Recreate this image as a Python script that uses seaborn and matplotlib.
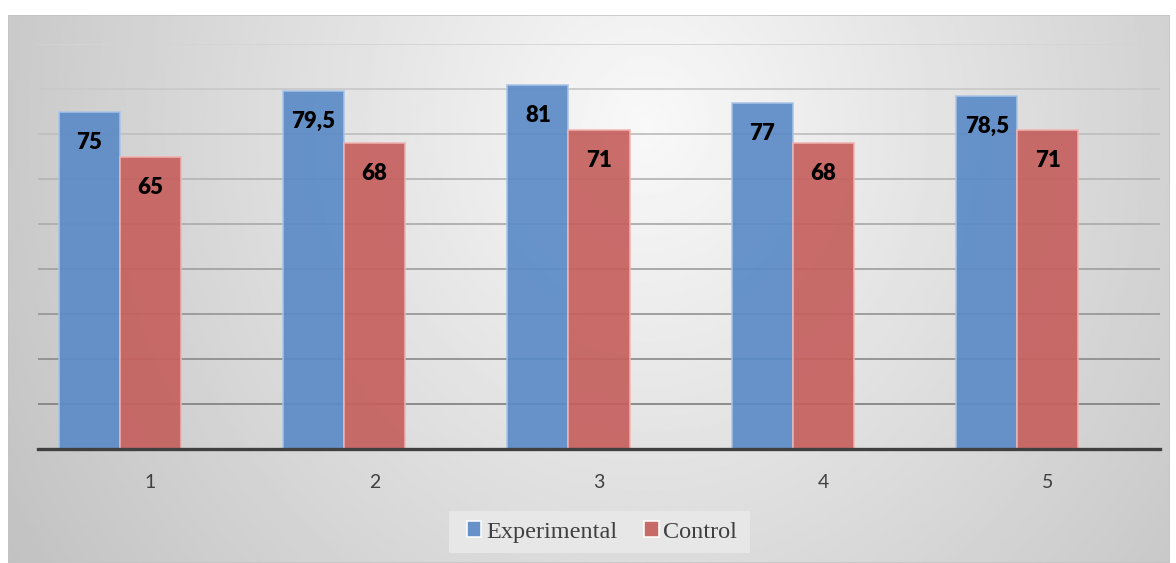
import numpy as np
import pandas as pd
import matplotlib
matplotlib.use("Agg")
import matplotlib.pyplot as plt
import matplotlib.colors as mcolors
from matplotlib.patches import Rectangle
import seaborn as sns

# data
sessions = ["1", "2", "3", "4", "5"]
experimental = [75, 79.5, 81, 77, 78.5]
control = [65, 68, 71, 68, 71]
groups = ["Experimental", "Control"]

df = pd.DataFrame({
    "session": sessions * 2,
    "score": experimental + control,
    "group": [groups[0]] * len(sessions) + [groups[1]] * len(sessions),
})

blue = "#5b8bc7"
red = "#c5605e"

sns.set_theme(style="white")
plt.rcParams["font.family"] = ["Lato", "DejaVu Sans"]

W, H = 1176, 563
fig = plt.figure(figsize=(W / 100, H / 100), dpi=100)
fig.patch.set_facecolor("white")

# gradient background of the chart frame
fx0, fx1, fy_top = 8, 1170, 15
bg = fig.add_axes([fx0 / W, 0, (fx1 - fx0) / W, (H - fy_top) / H])
u, v = np.meshgrid(np.linspace(0, 1, 400), np.linspace(1, 0, 200))
r = np.sqrt(((u - 0.55) / 0.6) ** 2 + ((v - 0.8) / 1.4) ** 2)
shade = np.clip(0.975 - 0.2 * r, 0.76, 0.975)
bg.imshow(shade, cmap="gray", vmin=0, vmax=1, aspect="auto", extent=[0, 1, 0, 1])
bg.add_patch(Rectangle((0, 0), 1, 1, fill=False, edgecolor="#c4c4c4", lw=1.2,
                       transform=bg.transAxes))
bg.set_axis_off()

# legend backdrop
fig.patches.append(Rectangle((449 / W, 10 / H), 301 / W, 42 / H, transform=fig.transFigure,
                             facecolor="#e7e7e7", edgecolor="none", zorder=0.5))

ax = fig.add_axes([38 / W, 114 / H, (1160 - 38) / W, (519 - 114) / H])
ax.patch.set_alpha(0)

# gridlines darkening toward the baseline
lo = np.array(mcolors.to_rgb("#858585"))
hi = np.array(mcolors.to_rgb("#d4d4d4"))
for yv in range(10, 91, 10):
    t = (yv - 10) / 80
    ax.axhline(yv, color=tuple(lo + (hi - lo) * t), lw=1.3, zorder=0.5)

sns.barplot(data=df, x="session", y="score", hue="group", palette=[blue, red],
            width=0.545, gap=0, alpha=0.92, linewidth=1.2, saturation=1,
            ax=ax, zorder=1)

edge_cols = ["#a9c4e6", "#f1b3b1"]
for cont, ec in zip(ax.containers, edge_cols):
    for p in cont:
        p.set_edgecolor(ec)
        val = p.get_height()
        lab = f"{val:g}".replace(".", ",")
        ax.annotate(lab, (p.get_x() + p.get_width() / 2, val), xytext=(0, -22),
                    textcoords="offset points", ha="center", va="center",
                    fontsize=16, fontweight="heavy", color="black", zorder=3)

# in the reference the category labels sit under the second bar of each pair
shift = 0.136
ax.set_xlim(-0.5 + shift, 4.5 + shift)
ax.set_xticks(np.arange(len(sessions)) + shift, sessions)
ax.set_ylim(0, 90)
ax.set_xlabel("")
ax.set_ylabel("")
ax.set_yticks([])
ax.tick_params(axis="x", length=0, pad=18, labelsize=14, labelcolor="#404040")
for s in ["top", "left", "right"]:
    ax.spines[s].set_visible(False)
ax.spines["bottom"].set_color("#404040")
ax.spines["bottom"].set_linewidth(2.4)
ax.spines["bottom"].set_zorder(4)

handles, labels = ax.get_legend_handles_labels()
ax.get_legend().remove()
leg = fig.legend(handles, labels, loc="center", bbox_to_anchor=(602 / W, 31 / H),
                 ncol=2, frameon=False, handlelength=0.6,
                 handleheight=0.6, handletextpad=0.2, columnspacing=1.1,
                 borderpad=0, borderaxespad=0,
                 prop={"family": "Liberation Serif", "size": 17.5})
for txt in leg.get_texts():
    txt.set_color("#404040")

fig.savefig("out.png", dpi=100)
